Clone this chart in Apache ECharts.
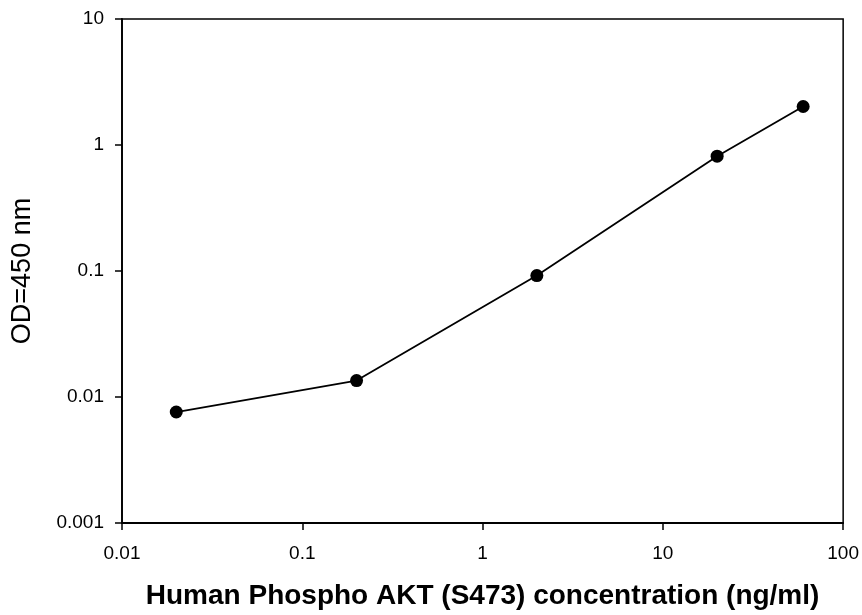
<!DOCTYPE html>
<html>
<head>
<meta charset="utf-8">
<script src="https://cdn.jsdelivr.net/npm/echarts@6/dist/echarts.min.js"></script>
<style>
  html, body { margin: 0; padding: 0; background: #fff; }
  #chart { width: 862px; height: 615px; }
</style>
</head>
<body>
<div id="chart"></div>
<script>
// concentration (ng/ml) vs OD=450 nm
var concentrations = [0.02, 0.2, 2, 20, 60];
var odValues = [0.0076, 0.0135, 0.092, 0.815, 2.02];
var xTickLabels = ['0.01', '0.1', '1', '10', '100'];
var yTickLabels = ['0.001', '0.01', '0.1', '1', '10'];

function tickText(labels, v) {
    var k = Math.round(Math.log10(v)) - Math.round(Math.log10(Number(labels[0])));
    return labels[k] !== undefined ? labels[k] : '';
}

var chartDom = document.getElementById('chart');
var myChart = echarts.init(chartDom);
var option;

var pts = [];
for (var i = 0; i < concentrations.length; i++) {
    pts.push([concentrations[i], odValues[i]]);
}

var fontFam = 'Liberation Sans, Arial, sans-serif';

option = {
    animation: false,
    backgroundColor: '#fff',
    grid: {
        left: 122, right: 17, top: 19, bottom: 91,
        show: true, borderColor: '#000', borderWidth: 1.5
    },
    xAxis: {
        type: 'log',
        logBase: 10,
        min: 0.01,
        max: 100,
        name: 'Human Phospho AKT (S473) concentration (ng/ml)',
        nameLocation: 'middle',
        nameGap: 59,
        nameTextStyle: { color: '#000', fontSize: 28, fontWeight: 'bold', fontFamily: fontFam },
        axisLine: { lineStyle: { color: '#000', width: 1.8 } },
        axisTick: { show: true, inside: false, length: 7, lineStyle: { color: '#000', width: 1.5 } },
        minorTick: { show: false },
        splitLine: { show: false },
        axisLabel: {
            color: '#000', fontSize: 19, fontFamily: fontFam, margin: 21,
            formatter: function (v) { return tickText(xTickLabels, v); }
        }
    },
    yAxis: {
        type: 'log',
        logBase: 10,
        min: 0.001,
        max: 10,
        name: 'OD=450 nm',
        nameLocation: 'middle',
        nameGap: 86,
        nameTextStyle: { color: '#000', fontSize: 27, fontFamily: fontFam },
        axisLine: { lineStyle: { color: '#000', width: 1.8 } },
        axisTick: { show: true, inside: false, length: 7, lineStyle: { color: '#000', width: 1.5 } },
        splitLine: { show: false },
        axisLabel: {
            color: '#000', fontSize: 19, fontFamily: fontFam, margin: 18,
            formatter: function (v) { return tickText(yTickLabels, v); }
        }
    },
    series: [
        {
            type: 'line',
            data: pts,
            symbol: 'circle',
            symbolSize: 13,
            itemStyle: { color: '#000' },
            lineStyle: { color: '#000', width: 1.8 }
        }
    ]
};
option && myChart.setOption(option);
</script>
</body>
</html>
